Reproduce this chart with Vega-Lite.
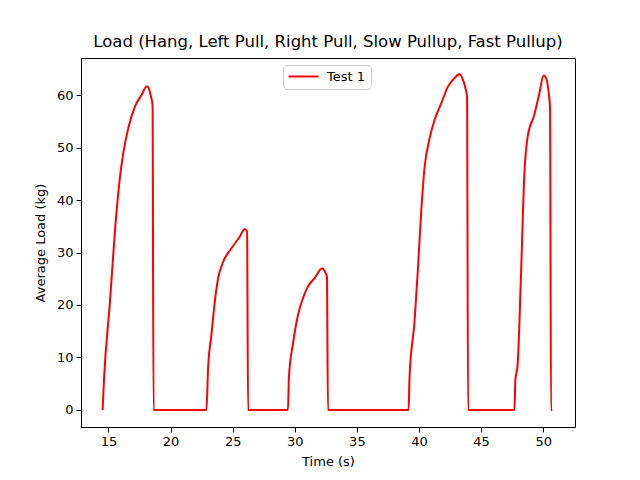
{
  "$schema": "https://vega.github.io/schema/vega-lite/v6.json",
  "width": 494,
  "height": 369,
  "autosize": {"type": "none"},
  "padding": {"left": 81, "top": 58, "right": 65, "bottom": 53},
  "background": "white",
  "config": {
    "font": "DejaVu Sans",
    "view": {"stroke": "black", "strokeWidth": 1},
    "axis": {
      "grid": false,
      "domainColor": "black",
      "tickColor": "black",
      "tickSize": 5,
      "labelFontSize": 13,
      "labelColor": "black",
      "titleFontSize": 13,
      "titleFontWeight": "normal",
      "titleColor": "black",
      "labelPadding": 3
    }
  },
  "title": {
    "text": "Load (Hang, Left Pull, Right Pull, Slow Pullup, Fast Pullup)",
    "fontSize": 16.5,
    "fontWeight": "normal",
    "color": "black",
    "offset": 8
  },
  "data": {
    "values": [
      {"t": 14.53, "load": 0, "series": "Test 1"},
      {"t": 14.64, "load": 5.7, "series": "Test 1"},
      {"t": 15.12, "load": 20.6, "series": "Test 1"},
      {"t": 15.52, "load": 34.0, "series": "Test 1"},
      {"t": 15.98, "load": 45.4, "series": "Test 1"},
      {"t": 16.19, "load": 48.9, "series": "Test 1"},
      {"t": 16.6, "load": 53.7, "series": "Test 1"},
      {"t": 17.13, "load": 57.8, "series": "Test 1"},
      {"t": 17.67, "load": 60.0, "series": "Test 1"},
      {"t": 18.07, "load": 61.6, "series": "Test 1"},
      {"t": 18.2, "load": 61.5, "series": "Test 1"},
      {"t": 18.39, "load": 60.0, "series": "Test 1"},
      {"t": 18.55, "load": 58.1, "series": "Test 1"},
      {"t": 18.63, "load": 0, "series": "Test 1"},
      {"t": 22.89, "load": 0, "series": "Test 1"},
      {"t": 23.02, "load": 7.9, "series": "Test 1"},
      {"t": 23.29, "load": 14.3, "series": "Test 1"},
      {"t": 23.56, "load": 20.6, "series": "Test 1"},
      {"t": 23.83, "load": 25.1, "series": "Test 1"},
      {"t": 24.23, "load": 28.2, "series": "Test 1"},
      {"t": 24.9, "load": 30.8, "series": "Test 1"},
      {"t": 25.57, "load": 33.0, "series": "Test 1"},
      {"t": 25.97, "load": 34.5, "series": "Test 1"},
      {"t": 26.16, "load": 34.0, "series": "Test 1"},
      {"t": 26.24, "load": 0, "series": "Test 1"},
      {"t": 29.45, "load": 0, "series": "Test 1"},
      {"t": 29.53, "load": 6.3, "series": "Test 1"},
      {"t": 29.86, "load": 12.7, "series": "Test 1"},
      {"t": 30.26, "load": 18.1, "series": "Test 1"},
      {"t": 30.66, "load": 21.3, "series": "Test 1"},
      {"t": 31.06, "load": 23.5, "series": "Test 1"},
      {"t": 31.6, "load": 25.1, "series": "Test 1"},
      {"t": 32.22, "load": 27.0, "series": "Test 1"},
      {"t": 32.4, "load": 26.5, "series": "Test 1"},
      {"t": 32.59, "load": 25.4, "series": "Test 1"},
      {"t": 32.67, "load": 0, "series": "Test 1"},
      {"t": 39.16, "load": 0, "series": "Test 1"},
      {"t": 39.24, "load": 6.3, "series": "Test 1"},
      {"t": 39.64, "load": 16.8, "series": "Test 1"},
      {"t": 39.9, "load": 26.3, "series": "Test 1"},
      {"t": 40.18, "load": 37.8, "series": "Test 1"},
      {"t": 40.44, "load": 46.0, "series": "Test 1"},
      {"t": 40.85, "load": 51.7, "series": "Test 1"},
      {"t": 41.25, "load": 55.2, "series": "Test 1"},
      {"t": 41.79, "load": 58.4, "series": "Test 1"},
      {"t": 42.33, "load": 61.6, "series": "Test 1"},
      {"t": 42.85, "load": 63.2, "series": "Test 1"},
      {"t": 43.26, "load": 64.0, "series": "Test 1"},
      {"t": 43.47, "load": 63.3, "series": "Test 1"},
      {"t": 43.74, "load": 61.3, "series": "Test 1"},
      {"t": 43.87, "load": 59.7, "series": "Test 1"},
      {"t": 43.95, "load": 0, "series": "Test 1"},
      {"t": 47.68, "load": 0, "series": "Test 1"},
      {"t": 47.76, "load": 5.7, "series": "Test 1"},
      {"t": 47.94, "load": 8.6, "series": "Test 1"},
      {"t": 48.22, "load": 26.3, "series": "Test 1"},
      {"t": 48.48, "load": 44.8, "series": "Test 1"},
      {"t": 48.75, "load": 52.1, "series": "Test 1"},
      {"t": 49.28, "load": 56.2, "series": "Test 1"},
      {"t": 49.69, "load": 60.3, "series": "Test 1"},
      {"t": 50.03, "load": 63.7, "series": "Test 1"},
      {"t": 50.17, "load": 63.5, "series": "Test 1"},
      {"t": 50.55, "load": 57.8, "series": "Test 1"},
      {"t": 50.63, "load": 0, "series": "Test 1"},
      {"t": 50.73, "load": 0, "series": "Test 1"}
    ]
  },
  "mark": {"type": "line", "strokeWidth": 2, "interpolate": "monotone"},
  "encoding": {
    "x": {
      "field": "t",
      "type": "quantitative",
      "title": "Time (s)",
      "scale": {"domain": [12.79, 52.56], "nice": false, "zero": false},
      "axis": {"values": [15, 20, 25, 30, 35, 40, 45, 50], "titlePadding": 7}
    },
    "y": {
      "field": "load",
      "type": "quantitative",
      "title": "Average Load (kg)",
      "scale": {"domain": [-3.24, 67.05], "nice": false, "zero": false},
      "axis": {"values": [0, 10, 20, 30, 40, 50, 60], "titlePadding": 9}
    },
    "color": {
      "field": "series",
      "type": "nominal",
      "scale": {"range": ["red"]},
      "legend": {
        "title": null,
        "orient": "none",
        "legendX": 202,
        "legendY": 7,
        "symbolType": "M-3,0L3,0",
        "symbolStrokeWidth": 2,
        "symbolSize": 100,
        "symbolOffset": 9,
        "labelOffset": 17,
        "labelFontSize": 13,
        "labelColor": "black",
        "fillColor": "white",
        "strokeColor": "#cccccc",
        "cornerRadius": 4,
        "padding": 5
      }
    }
  }
}
